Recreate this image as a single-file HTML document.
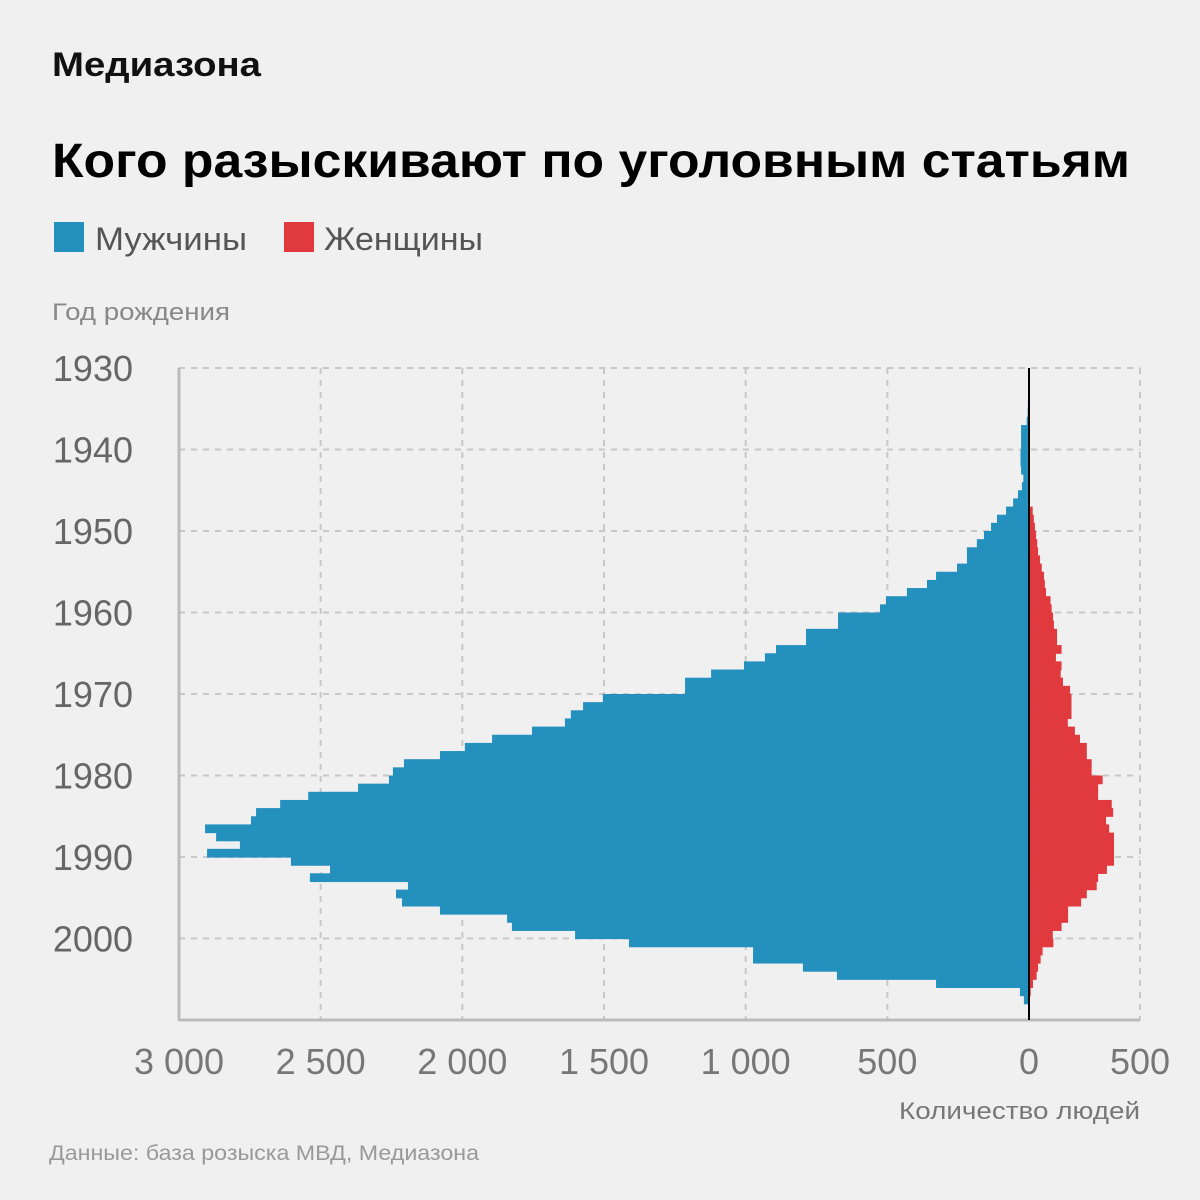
<!DOCTYPE html>
<html><head><meta charset="utf-8"><style>
html,body{margin:0;padding:0;background:#f0f0f0}
svg{display:block;font-family:"Liberation Sans",sans-serif}
</style></head><body>
<svg id="chart" width="1200" height="1200" viewBox="0 0 1200 1200" xmlns="http://www.w3.org/2000/svg">
<rect width="1200" height="1200" fill="#f0f0f0"/>
<text x="52" y="76" font-size="34" font-weight="bold" fill="#111" textLength="209" lengthAdjust="spacingAndGlyphs">Медиазона</text>
<text x="52" y="177" font-size="48" font-weight="bold" fill="#000" textLength="1078" lengthAdjust="spacingAndGlyphs">Кого разыскивают по уголовным статьям</text>
<g>
<rect x="54" y="222" width="30" height="30" fill="#2490bd"/>
<text x="95" y="250" font-size="32" fill="#555" textLength="152" lengthAdjust="spacingAndGlyphs">Мужчины</text>
<rect x="284" y="222" width="30" height="30" fill="#e0393e"/>
<text x="324" y="250" font-size="32" fill="#555" textLength="159" lengthAdjust="spacingAndGlyphs">Женщины</text>
</g>
<text x="52" y="320" font-size="24" fill="#888" textLength="178" lengthAdjust="spacingAndGlyphs">Год рождения</text>
<g id="grid"></g>
<g id="bars"></g>
<g id="axes"></g>
<text x="1140" y="1119" font-size="24" fill="#777" text-anchor="end" textLength="241" lengthAdjust="spacingAndGlyphs">Количество людей</text>
<text x="49" y="1160" font-size="21" fill="#999" textLength="430" lengthAdjust="spacingAndGlyphs">Данные: база розыска МВД, Медиазона</text>
</svg>
<script>
const years = [1930,1931,1932,1933,1934,1935,1936,1937,1938,1939,1940,1941,1942,1943,1944,1945,1946,1947,1948,1949,1950,1951,1952,1953,1954,1955,1956,1957,1958,1959,1960,1961,1962,1963,1964,1965,1966,1967,1968,1969,1970,1971,1972,1973,1974,1975,1976,1977,1978,1979,1980,1981,1982,1983,1984,1985,1986,1987,1988,1989,1990,1991,1992,1993,1994,1995,1996,1997,1998,1999,2000,2001,2002,2003,2004,2005,2006,2007];
const menValues = [0,0,0,2,4,5,8,28,28,28,30,30,28,20,25,39,56,81,113,134,159,184,219,219,254,328,360,431,505,526,674,674,787,787,893,932,1006,1122,1214,1214,1504,1574,1617,1638,1754,1895,1991,2079,2206,2245,2259,2368,2544,2643,2728,2746,2908,2869,2785,2901,2605,2467,2538,2192,2234,2213,2079,1842,1825,1602,1412,974,974,798,678,328,32,18];
const womenValues = [0,0,0,0,0,0,0,0,0,0,0,0,0,0,0,0,1,13,17,21,25,29,32,39,45,53,56,60,76,80,85,88,99,99,115,95,115,112,120,145,150,150,150,137,162,180,204,204,221,221,260,244,244,292,297,272,283,300,300,300,300,275,244,239,204,184,138,138,115,84,86,48,41,32,27,14,6,0];
const yTickLabels = ["1930","1940","1950","1960","1970","1980","1990","2000"];
const yTickValues = [1930,1940,1950,1960,1970,1980,1990,2000];
const menTickValues = [3000,2500,2000,1500,1000,500,0];
const menTickLabels = ["3 000","2 500","2 000","1 500","1 000","500","0"];

const NS="http://www.w3.org/2000/svg";
const X0=1029, PX=850/3000, Y0=368, PY=8.15, LEFT=179, RIGHT=1140, BOTTOM=1020;
const xMen=v=>X0-v*PX, xWomen=v=>X0+v*PX, yScale=yr=>Y0+(yr-1930)*PY;
function mk(tag,attrs,parent){const e=document.createElementNS(NS,tag);for(const k in attrs)e.setAttribute(k,attrs[k]);parent.appendChild(e);return e;}
const grid=document.getElementById('grid'),bars=document.getElementById('bars'),axes=document.getElementById('axes');
yTickValues.forEach((yr,i)=>{
 const l=mk('line',{x1:LEFT,x2:RIGHT,y1:yScale(yr),y2:yScale(yr),stroke:'#c8c8c8','stroke-width':2,'stroke-dasharray':'6 6'},grid);
 
 
 const t=mk('text',{x:133,y:yScale(yr)+13,'font-size':36,fill:'#666','text-anchor':'end'},axes);
 t.textContent=yTickLabels[i];
 
 
});
menTickValues.forEach((v,i)=>{
 if(v>0){const l=mk('line',{x1:xMen(v),x2:xMen(v),y1:Y0,y2:BOTTOM,stroke:'#c8c8c8','stroke-width':2,'stroke-dasharray':'6 6'},grid);
 
 }
 const t=mk('text',{x:xMen(v),y:1074,'font-size':36,fill:'#777','text-anchor':'middle'},axes);
 t.textContent=menTickLabels[i];
 
 
});
const rg=mk('line',{x1:RIGHT,x2:RIGHT,y1:Y0,y2:BOTTOM,stroke:'#c8c8c8','stroke-width':2,'stroke-dasharray':'6 6'},grid);


const wt=mk('text',{x:RIGHT,y:1074,'font-size':36,fill:'#777','text-anchor':'middle'},axes);
wt.textContent="500";


years.forEach((yr,i)=>{
 const y=yScale(yr), h=PY+0.6;
 if(menValues[i]>0){const r=mk('rect',{x:xMen(menValues[i]),y:y,width:menValues[i]*PX,height:h,fill:'#2490bd'},bars);
 
 }
 if(womenValues[i]>0){const r=mk('rect',{x:X0,y:y,width:womenValues[i]*PX,height:h,fill:'#e0393e'},bars);
 
 }
});
const ya=mk('line',{x1:LEFT,x2:LEFT,y1:Y0,y2:BOTTOM+1,stroke:'#bbb','stroke-width':3},axes);


const xa=mk('line',{x1:LEFT,x2:RIGHT,y1:BOTTOM,y2:BOTTOM,stroke:'#bbb','stroke-width':3},axes);


const z=mk('line',{x1:X0,x2:X0,y1:Y0,y2:BOTTOM,stroke:'#000','stroke-width':2},axes);


</script>
</body></html>
